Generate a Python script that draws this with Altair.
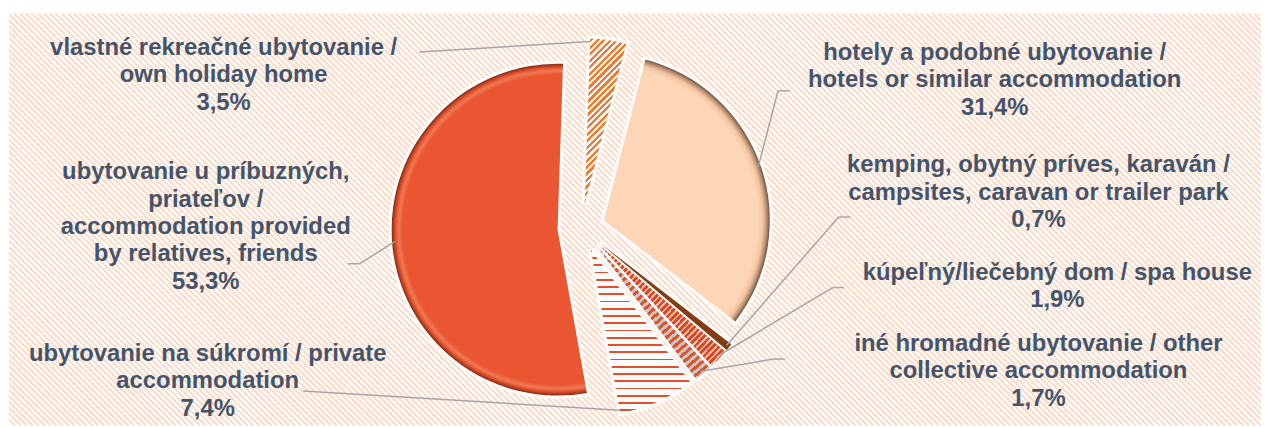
import math
import altair as alt
import pandas as pd

# ---------------- data (clockwise from the start angle) ----------------
categories = ["hotels", "campsites", "spa", "other", "private", "relatives", "own"]
values = [31.4, 0.7, 1.9, 1.7, 7.4, 53.3, 3.5]
titles = [
    "hotely a podobné ubytovanie /\nhotels or similar accommodation",
    "kemping, obytný príves, karaván /\ncampsites, caravan or trailer park",
    "kúpeľný/liečebný dom / spa house",
    "iné hromadné ubytovanie / other\ncollective accommodation",
    "ubytovanie na súkromí / private\naccommodation",
    "ubytovanie u príbuzných,\npriateľov /\naccommodation provided\nby relatives, friends",
    "vlastné rekreačné ubytovanie /\nown holiday home",
]

# ---------------- layout ----------------
W, H = 1260, 415
CX, CY = 576, 216
R = 167
EXPLODE = 24
START = math.radians(14.5)
label_x = [992, 1036, 1055, 1036, 200, 198, 216]
label_y = [40, 153, 261, 333, 343, 160, 35]
elbow_x = [774, 835, 829, 769, 296, 353, 413]
elbow_y = [78, 205, 276, 348, 380, 252, 39]
end_x = [786, 847, 840, 781, 296, 341, 413]
anchor_frac = [0.5, 0.5, 0.5, 0.5, 1.0, 0.5, 0.0]

TEXT = "#44546A"
FONT = "Liberation Sans"

labels = [t + "\n" + f"{v:.1f}".replace(".", ",") + "%" for t, v in zip(titles, values)]
df = pd.DataFrame({
    "cat": categories, "val": values, "ord": list(range(len(values))),
    "label": labels, "lx": label_x, "ly": label_y,
    "ex": elbow_x, "ey": elbow_y, "hx": end_x, "frac": anchor_frac,
})

# ---------- geometry for gradient styling (mirrors the transforms) ----------
total = sum(values)
geo = {}
cum = 0.0
for c, v in zip(categories, values):
    a0 = START + 2 * math.pi * cum / total
    cum += v
    a1 = START + 2 * math.pi * cum / total
    mid = (a0 + a1) / 2
    cx = CX + EXPLODE * math.sin(mid)
    cy = CY - EXPLODE * math.cos(mid)
    pts = [(cx, cy)]
    angs = [a0, a1] + [k * math.pi / 2 for k in range(0, 10) if a0 < k * math.pi / 2 < a1]
    for a in angs:
        pts.append((cx + R * math.sin(a), cy - R * math.cos(a)))
    xs, ys = zip(*pts)
    geo[c] = dict(cx=cx, cy=cy, x0=min(xs), x1=max(xs), y0=min(ys), y1=max(ys), mid=mid)


def stripes(g, c1, c2, period, duty, angle_deg):
    w = g["x1"] - g["x0"]
    h = g["y1"] - g["y0"]
    dx = math.cos(math.radians(angle_deg))
    dy = math.sin(math.radians(angle_deg))
    g0 = (w * dx, h * dy)
    n2 = g0[0] ** 2 + g0[1] ** 2
    s = [u * g0[0] + v * g0[1] for u in (0, 1) for v in (0, 1)]
    smin, smax = min(s), max(s)
    L = smax - smin
    k_ = L / n2
    p1 = (smin * g0[0] / n2, smin * g0[1] / n2)
    p2 = (p1[0] + k_ * g0[0], p1[1] + k_ * g0[1])
    stops = []
    k = 0
    while k * period < L:
        o0 = k * period / L
        o1 = min((k * period + duty * period) / L, 1)
        o2 = min((k + 1) * period / L, 1)
        stops += [(c1, o0), (c1, o1), (c2, o1), (c2, o2)]
        k += 1
    return {"gradient": "linear", "x1": p1[0], "y1": p1[1], "x2": p2[0], "y2": p2[1],
            "stops": [{"color": col, "offset": round(o, 5)} for col, o in stops]}


def radial(g, stops_px):
    w = g["x1"] - g["x0"]
    h = g["y1"] - g["y0"]
    side = max(w, h)
    ox = (g["x0"] + g["x1"]) / 2 - side / 2
    oy = (g["y0"] + g["y1"]) / 2 - side / 2
    ux = (g["cx"] - ox) / side
    uy = (g["cy"] - oy) / side
    return {"gradient": "radial", "x1": ux, "y1": uy, "r1": 0, "x2": ux, "y2": uy, "r2": R / side,
            "stops": [{"color": c, "offset": round(d / R, 4)} for c, d in stops_px]}


def radial_dir(c):
    m = geo[c]["mid"]
    return math.degrees(math.atan2(-math.cos(m), math.sin(m)))


fills = {
    "hotels": radial(geo["hotels"], [("#FCD6B6", 0), ("#FCD6B6", R - 12), ("#F3C6A3", R - 7),
                                      ("#B98E70", R - 3), ("#6E5243", R)]),
    "relatives": radial(geo["relatives"], [("#EA5631", 0), ("#EA5631", R - 11), ("#F07A55", R - 7),
                                            ("#E4532E", R - 4), ("#A9391C", R - 1.5), ("#7E2A14", R)]),
    "own": stripes(geo["own"], "#EE7B30", "#F4F1EE", 4.6, 0.5, 45),
    "private": stripes(geo["private"], "#E24F2A", "#FBFBFB", 7.3, 0.24, 90),
    "other": stripes(geo["other"], "#DE522C", "#C9C6C4", 6.0, 0.5, radial_dir("other")),
    "spa": stripes(geo["spa"], "#D64A28", "#F2BBA6", 4.5, 0.6, radial_dir("spa")),
    "campsites": "#843C12",
}

# ---------------- charts ----------------
base = (
    alt.Chart(df)
    .transform_joinaggregate(total="sum(val)")
    .transform_window(cum="sum(val)", sort=[alt.SortField("ord")], frame=[None, 0])
    .transform_calculate(
        t1=f"{START} + 2*PI*datum.cum/datum.total",
        t0=f"{START} + 2*PI*(datum.cum-datum.val)/datum.total",
    )
    .transform_calculate(mid="(datum.t0+datum.t1)/2", ang="datum.t0 + datum.frac*(datum.t1-datum.t0)")
    .transform_calculate(
        cx=f"{CX} + {EXPLODE}*sin(datum.mid)",
        cy=f"{CY} - {EXPLODE}*cos(datum.mid)",
    )
    .transform_calculate(
        ax=f"datum.cx + {R - 3}*sin(datum.ang)",
        ay=f"datum.cy - {R - 3}*cos(datum.ang)",
    )
)

arc_enc = dict(
    theta=alt.Theta("t0:Q", scale=None),
    theta2=alt.Theta2("t1:Q"),
    x=alt.X("cx:Q", scale=None, axis=None),
    y=alt.Y("cy:Q", scale=None, axis=None),
)

# background stripes
N = int((W + H) / 6) + 2
bg = (
    alt.Chart(alt.sequence(0, N, as_="i"))
    .transform_calculate(xs=f"datum.i*6 - {H}", xe=f"datum.i*6")
    .mark_rule(color="#FBDDCC", strokeWidth=2.3, clip=True)
    .encode(
        x=alt.X("xs:Q", scale=None, axis=None),
        x2=alt.X2("xe:Q"),
        y=alt.value(0),
        y2=alt.value(H),
    )
)

glow = base.mark_arc(radius=R, fill="white", stroke="white", strokeWidth=6, opacity=0.85).encode(**arc_enc)

slices = []
for c in categories:
    slices.append(
        base.transform_filter(alt.datum.cat == c)
        .mark_arc(radius=R, fill=fills[c])
        .encode(**arc_enc)
    )

lead1 = base.mark_rule(color="#A6A6A6", strokeWidth=1.5).encode(
    x=alt.X("ax:Q", scale=None, axis=None), y=alt.Y("ay:Q", scale=None, axis=None),
    x2=alt.X2("ex:Q"), y2=alt.Y2("ey:Q"),
)
lead2 = base.mark_rule(color="#A6A6A6", strokeWidth=1.5).encode(
    x=alt.X("ex:Q", scale=None, axis=None), y=alt.Y("ey:Q", scale=None, axis=None),
    x2=alt.X2("hx:Q"), y2=alt.Y2("ey:Q"),
)

text = base.mark_text(
    align="center", baseline="middle", lineBreak="\n", fontSize=24, lineHeight=27.5,
    font=FONT, fontWeight="bold", color=TEXT,
).encode(
    x=alt.X("lx:Q", scale=None, axis=None),
    y=alt.Y("ly:Q", scale=None, axis=None),
    text="label:N",
)

chart = (
    alt.layer(bg, glow, *slices, lead1, lead2, text)
    .properties(
        width=W, height=H,
        padding={"left": 1, "top": 4, "right": 0, "bottom": 0},
        autosize=alt.AutoSizeParams(type="none"),
        background="white",
    )
    .configure_view(stroke=None)
)

chart.save("out.html", embed_options={"renderer": "svg", "actions": False})
